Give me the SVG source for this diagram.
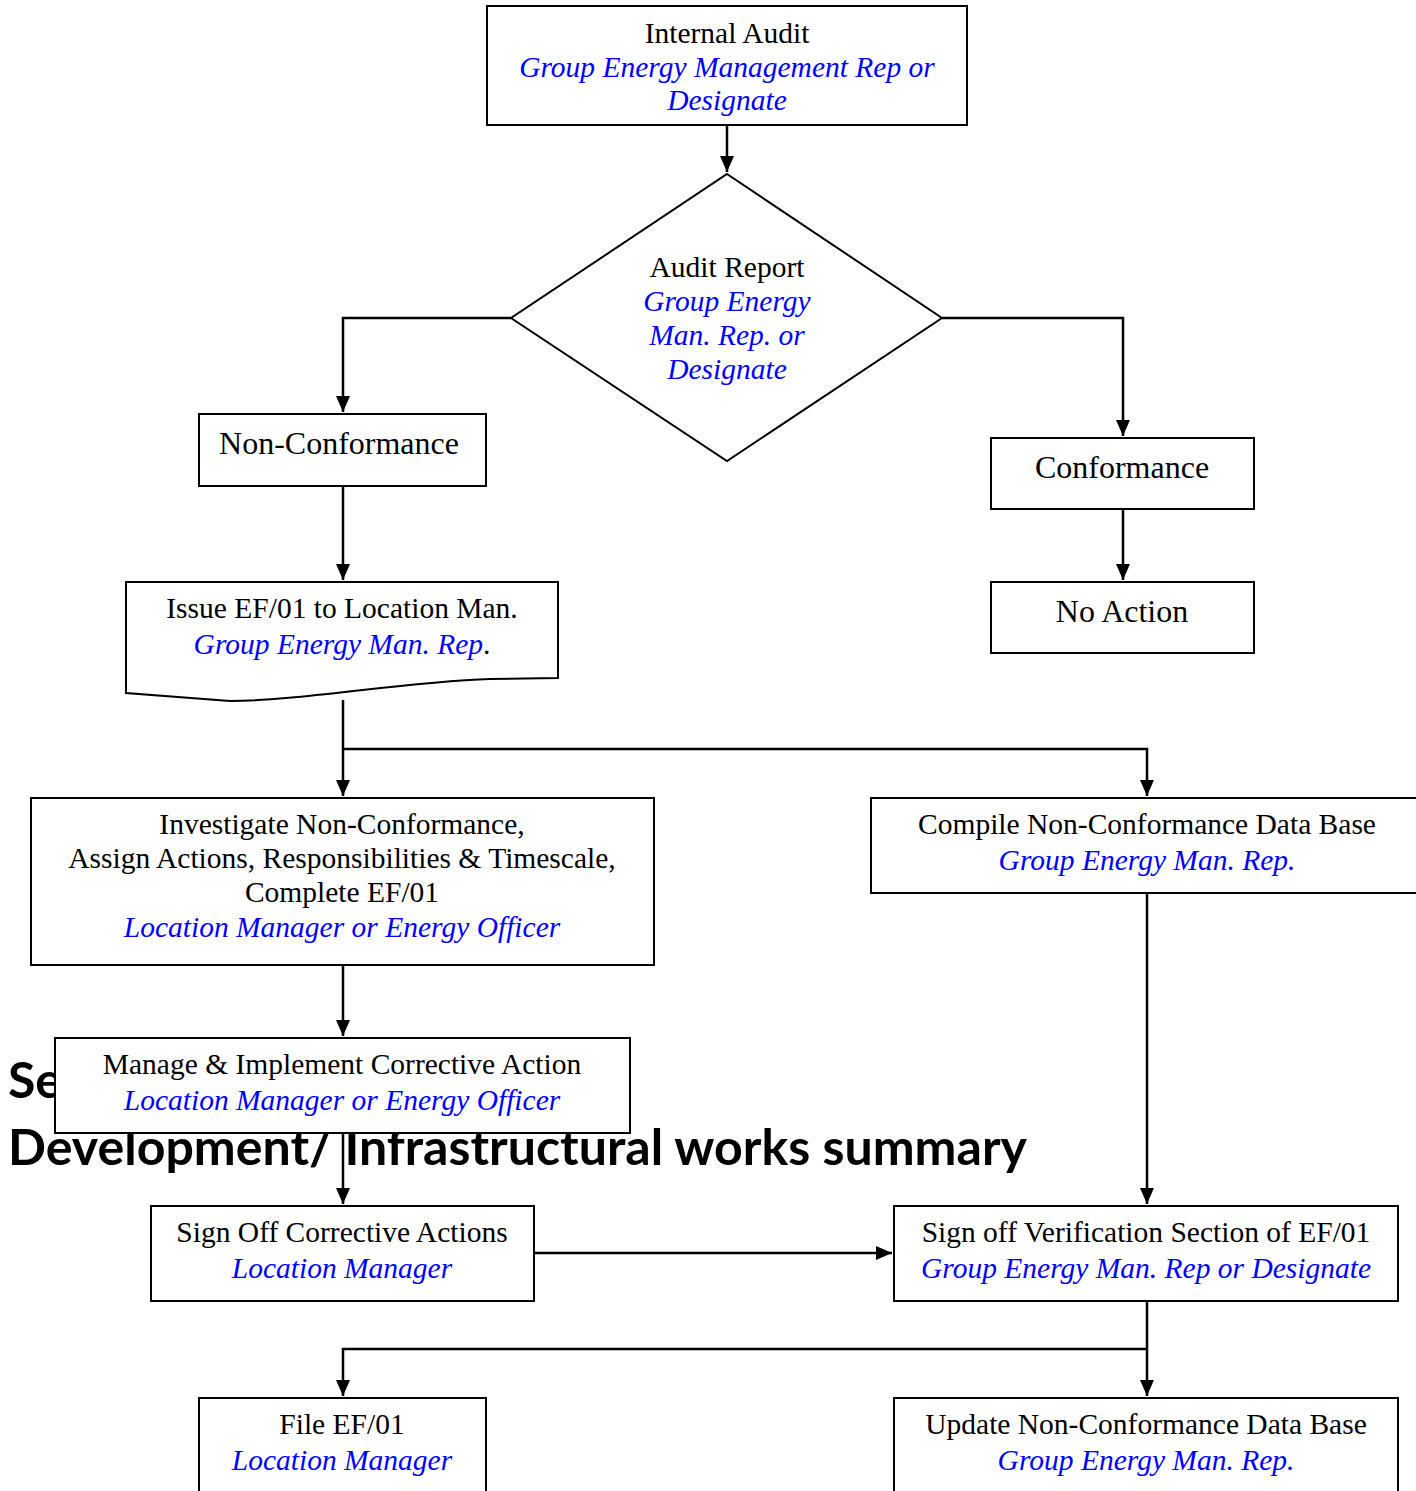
<svg xmlns="http://www.w3.org/2000/svg" width="1416" height="1491" viewBox="0 0 1416 1491">
<style>
.box{fill:#fff;stroke:#000;stroke-width:2}
.t{font-family:"Liberation Serif","Times New Roman",serif;font-size:29.5px;fill:#000;text-anchor:middle}
.b{fill:#0000ff;font-style:italic}
.big{font-size:32px}
.hd{font-family:Lato,"Open Sans",sans-serif;font-weight:bold;font-size:50px;fill:#000}
.c{fill:none;stroke:#000;stroke-width:2.5}
</style>
<defs>
<marker id="ah" markerUnits="userSpaceOnUse" markerWidth="16" markerHeight="14" refX="16" refY="7" orient="auto">
<path d="M0,0 L16,7 L0,14 Z" fill="#000"/>
</marker>
</defs>
<g id="heading">
<text class="hd" x="8" y="1098">Se</text>
<text class="hd" x="8" y="1165" textLength="1019" lengthAdjust="spacingAndGlyphs">Development/ Infrastructural works summary</text>
</g>
<g id="connectors">
<path class="c" d="M727,126 V172" marker-end="url(#ah)"/>
<path class="c" d="M511,318 H343 V412" marker-end="url(#ah)"/>
<path class="c" d="M942,318 H1123 V436" marker-end="url(#ah)"/>
<path class="c" d="M1123,510 V580" marker-end="url(#ah)"/>
<path class="c" d="M343,487 V580" marker-end="url(#ah)"/>
<path class="c" d="M343,700 V796" marker-end="url(#ah)"/>
<path class="c" d="M343,749 H1147 V796" marker-end="url(#ah)"/>
<path class="c" d="M343,966 V1036" marker-end="url(#ah)"/>
<path class="c" d="M343,1134 V1204" marker-end="url(#ah)"/>
<path class="c" d="M535,1253 H892" marker-end="url(#ah)"/>
<path class="c" d="M1147,894 V1204" marker-end="url(#ah)"/>
<path class="c" d="M1147,1302 V1396" marker-end="url(#ah)"/>
<path class="c" d="M1147,1349 H343 V1396" marker-end="url(#ah)"/>
</g>
<g id="internal-audit">
<rect class="box" x="487" y="6" width="480" height="119"/>
<text class="t" x="727" y="43">Internal Audit</text>
<text class="t b" x="727" y="77">Group Energy Management Rep or</text>
<text class="t b" x="727" y="110">Designate</text>
</g>
<g id="audit-report">
<path class="box" d="M727,174 L942,318 L727,461 L511,318 Z"/>
<text class="t" x="727" y="277">Audit Report</text>
<text class="t b" x="727" y="311">Group Energy</text>
<text class="t b" x="727" y="345">Man. Rep. or</text>
<text class="t b" x="727" y="379">Designate</text>
</g>
<g id="non-conformance">
<rect class="box" x="199" y="414" width="287" height="72"/>
<text class="t big" x="339" y="454">Non-Conformance</text>
</g>
<g id="conformance">
<rect class="box" x="991" y="438" width="263" height="71"/>
<text class="t big" x="1122" y="478">Conformance</text>
</g>
<g id="no-action">
<rect class="box" x="991" y="582" width="263" height="71"/>
<text class="t big" x="1122" y="622">No Action</text>
</g>
<g id="issue-ef01">
<path class="box" d="M126,582 H558 V678 L490,679 C400,682 300,701 230,701 L126,693 Z"/>
<text class="t" x="342" y="618">Issue EF/01 to Location Man.</text>
<text class="t" x="342" y="654"><tspan class="b">Group Energy Man. Rep</tspan>.</text>
</g>
<g id="investigate">
<rect class="box" x="31" y="798" width="623" height="167"/>
<text class="t" x="342" y="834">Investigate Non-Conformance,</text>
<text class="t" x="342" y="868">Assign Actions, Responsibilities &amp; Timescale,</text>
<text class="t" x="342" y="902">Complete EF/01</text>
<text class="t b" x="342" y="937">Location Manager or Energy Officer</text>
</g>
<g id="compile-db">
<rect class="box" x="871" y="798" width="552" height="95"/>
<text class="t" x="1147" y="834">Compile Non-Conformance Data Base</text>
<text class="t b" x="1147" y="870">Group Energy Man. Rep.</text>
</g>
<g id="manage">
<rect class="box" x="55" y="1038" width="575" height="95"/>
<text class="t" x="342" y="1074">Manage &amp; Implement Corrective Action</text>
<text class="t b" x="342" y="1110">Location Manager or Energy Officer</text>
</g>
<g id="sign-off">
<rect class="box" x="151" y="1206" width="383" height="95"/>
<text class="t" x="342" y="1242">Sign Off Corrective Actions</text>
<text class="t b" x="342" y="1278">Location Manager</text>
</g>
<g id="sign-off-verification">
<rect class="box" x="894" y="1206" width="504" height="95"/>
<text class="t" x="1146" y="1242">Sign off Verification Section of EF/01</text>
<text class="t b" x="1146" y="1278">Group Energy Man. Rep or Designate</text>
</g>
<g id="file-ef01">
<rect class="box" x="199" y="1398" width="287" height="110"/>
<text class="t" x="342" y="1434">File EF/01</text>
<text class="t b" x="342" y="1470">Location Manager</text>
</g>
<g id="update-db">
<rect class="box" x="894" y="1398" width="504" height="110"/>
<text class="t" x="1146" y="1434">Update Non-Conformance Data Base</text>
<text class="t b" x="1146" y="1470">Group Energy Man. Rep.</text>
</g>
</svg>
